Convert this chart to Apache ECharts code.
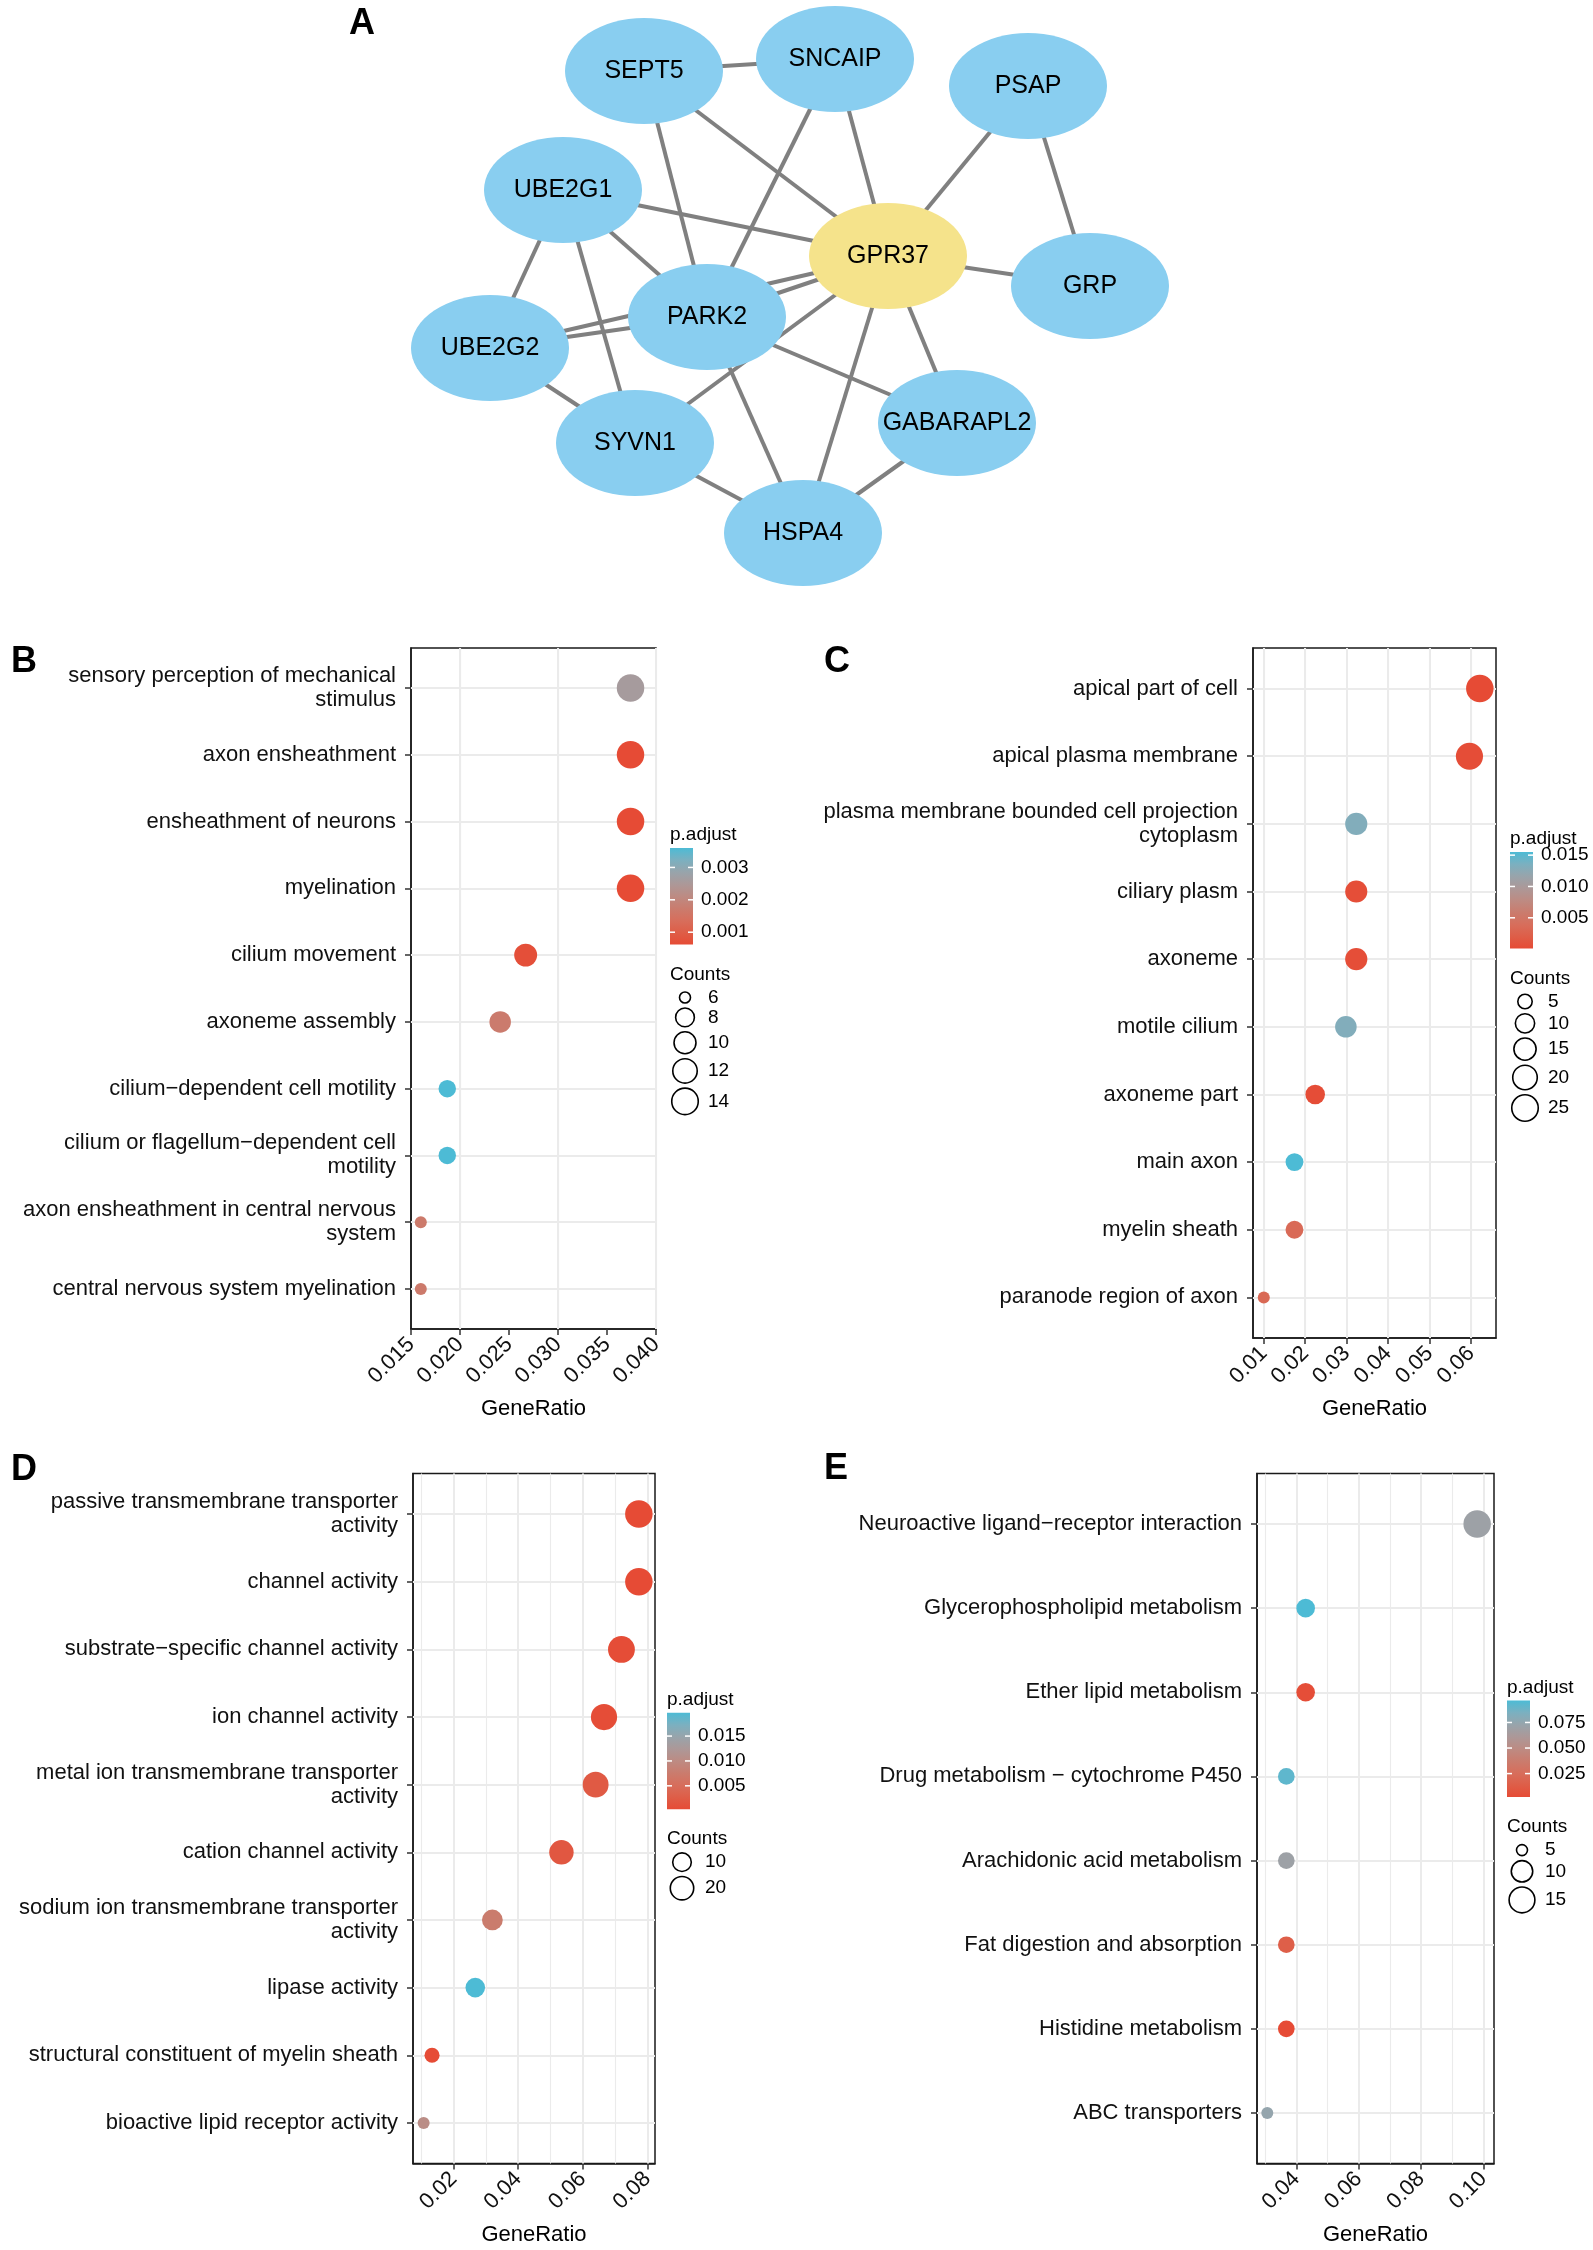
<!DOCTYPE html>
<html>
<head>
<meta charset="utf-8">
<script src="https://cdn.jsdelivr.net/npm/echarts@6/dist/echarts.min.js"></script>
<style>html,body{margin:0;padding:0;background:#fff}#chart{width:1593px;height:2250px}</style>
</head>
<body>
<div id="chart"></div>
<script>
const FONT = "'Liberation Sans', Arial, Helvetica, sans-serif";

// ---------------- Panel A: PPI network ----------------
const netNodes = ['SEPT5','SNCAIP','PSAP','UBE2G1','GPR37','GRP','PARK2','UBE2G2','SYVN1','GABARAPL2','HSPA4'];
// layout coordinates of each node (network layout space)
const netLayout = [[644,71],[835,59],[1028,86],[563,190],[888,256],[1090,286],[707,317],[490,348],[635,443],[957,423],[803,533]];
const netHub = ['GPR37'];
const netEdges = [
  ['SEPT5','SNCAIP'],['SEPT5','GPR37'],['SEPT5','PARK2'],['SNCAIP','GPR37'],['SNCAIP','PARK2'],
  ['PSAP','GPR37'],['PSAP','GRP'],['UBE2G1','GPR37'],['UBE2G1','PARK2'],['UBE2G1','UBE2G2'],
  ['UBE2G1','SYVN1'],['GPR37','GRP'],['GPR37','PARK2'],['UBE2G2','GPR37'],['UBE2G2','PARK2'],
  ['GPR37','SYVN1'],['GPR37','HSPA4'],['GPR37','GABARAPL2'],['PARK2','GABARAPL2'],['PARK2','HSPA4'],
  ['UBE2G2','SYVN1'],['SYVN1','HSPA4'],['GABARAPL2','HSPA4']
];

// ---------------- Panel B: GO BP ----------------
const bCategories = ['sensory perception of mechanical\nstimulus','axon ensheathment','ensheathment of neurons','myelination','cilium movement','axoneme assembly','cilium\u2212dependent cell motility','cilium or flagellum\u2212dependent cell\nmotility','axon ensheathment in central nervous\nsystem','central nervous system myelination'];
const bGeneRatio = [0.0374,0.0374,0.0374,0.0374,0.0267,0.0241,0.0187,0.0187,0.0160,0.0160];
const bCounts = [14,14,14,14,10,9,7,7,6,6];
const bPadj = [0.00259,0.00062,0.00062,0.00062,0.00070,0.00172,0.0036,0.0036,0.00168,0.00168];
const bXTicks = [0.015,0.020,0.025,0.030,0.035,0.040];
const bXRange = [0.015,0.040];
const bPTicks = [0.001,0.002,0.003];
const bCountTicks = [6,8,10,12,14];

// ---------------- Panel C: GO CC ----------------
const cCategories = ['apical part of cell','apical plasma membrane','plasma membrane bounded cell projection\ncytoplasm','ciliary plasm','axoneme','motile cilium','axoneme part','main axon','myelin sheath','paranode region of axon'];
const cGeneRatio = [0.0621,0.0596,0.0323,0.0323,0.0323,0.0298,0.0224,0.0174,0.0174,0.0100];
const cCounts = [25,24,13,13,13,12,9,7,7,4];
const cPadj = [0.0001,0.0003,0.0131,0.0004,0.0004,0.0131,0.0003,0.0155,0.0035,0.0033];
const cXTicks = [0.01,0.02,0.03,0.04,0.05,0.06];
const cXRange = [0.0074,0.066];
const cPTicks = [0.005,0.010,0.015];
const cCountTicks = [5,10,15,20,25];

// ---------------- Panel D: GO MF ----------------
const dCategories = ['passive transmembrane transporter\nactivity','channel activity','substrate\u2212specific channel activity','ion channel activity','metal ion transmembrane transporter\nactivity','cation channel activity','sodium ion transmembrane transporter\nactivity','lipase activity','structural constituent of myelin sheath','bioactive lipid receptor activity'];
const dGeneRatio = [0.0774,0.0774,0.0720,0.0666,0.0640,0.0534,0.0320,0.0267,0.0133,0.0107];
const dCounts = [29,29,27,25,24,20,12,10,5,4];
const dPadj = [0.0003,0.0003,0.0005,0.0006,0.0022,0.0018,0.0075,0.0197,0.0004,0.0104];
const dXTicks = [0.02,0.04,0.06,0.08];
const dXRange = [0.0074,0.0824];
const dPTicks = [0.005,0.010,0.015];
const dCountTicks = [10,20];

// ---------------- Panel E: KEGG ----------------
const eCategories = ['Neuroactive ligand\u2212receptor interaction','Glycerophospholipid metabolism','Ether lipid metabolism','Drug metabolism \u2212 cytochrome P450','Arachidonic acid metabolism','Fat digestion and absorption','Histidine metabolism','ABC transporters'];
const eGeneRatio = [0.0980,0.0430,0.0430,0.0368,0.0368,0.0368,0.0368,0.0307];
const eCounts = [16,7,7,6,6,6,6,5];
const ePadj = [0.0700,0.0964,0.0040,0.0917,0.0700,0.0143,0.0020,0.0740];
const eXTicks = [0.04,0.06,0.08,0.10];
const eXRange = [0.0274,0.1034];
const ePTicks = [0.025,0.050,0.075];
const eCountTicks = [5,10,15];

// ---------------- styling / layout ----------------
// red (low p.adjust) -> blue (high p.adjust), Lab-like path
const gradColors = ['#E64B35','#DE5E48','#D76E5C','#CA7C6E','#BD8B83','#AC9898','#98A4AB','#7BB0C0','#4DBBD5'];
const DOT_MIN = 12, DOT_MAX = 27.5;

const panels = [
  {letter:'B', cats:bCategories, ratio:bGeneRatio, counts:bCounts, padj:bPadj, xTicks:bXTicks, xRange:bXRange, dec:3, pTicks:bPTicks, countTicks:bCountTicks,
   grid:{left:411, top:648, width:245, height:681}, nameGap:69, letterPos:[11,662], leg:{x:670, titleY:835}},
  {letter:'C', cats:cCategories, ratio:cGeneRatio, counts:cCounts, padj:cPadj, xTicks:cXTicks, xRange:cXRange, dec:2, pTicks:cPTicks, countTicks:cCountTicks,
   grid:{left:1253, top:648, width:243, height:690}, nameGap:60, letterPos:[824,662], leg:{x:1510, titleY:839}},
  {letter:'D', cats:dCategories, ratio:dGeneRatio, counts:dCounts, padj:dPadj, xTicks:dXTicks, xRange:dXRange, dec:2, pTicks:dPTicks, countTicks:dCountTicks,
   grid:{left:413, top:1473.5, width:242, height:690}, nameGap:60, letterPos:[11,1470], leg:{x:667, titleY:1699.7}},
  {letter:'E', cats:eCategories, ratio:eGeneRatio, counts:eCounts, padj:ePadj, xTicks:eXTicks, xRange:eXRange, dec:2, pTicks:ePTicks, countTicks:eCountTicks,
   grid:{left:1257, top:1473.5, width:237, height:690}, nameGap:60, letterPos:[824,1469.5], leg:{x:1507, titleY:1687.6}}
];

function textEl(str, x, y, size, opts) {
  opts = opts || {};
  return {type:'text', x:x, y:y, silent:true, z:10,
    style:{text:String(str), fontSize:size, fontFamily:FONT, fontWeight:opts.weight||'normal', fill:'#000',
      align:opts.align||'left', verticalAlign:'middle', textAlign:opts.align||'left', textVerticalAlign:'middle'}};
}

const grids = [{left:0, top:0, width:1593, height:620, show:false}];
const xAxes = [{type:'value', gridIndex:0, min:0, max:1593, show:false}];
const yAxes = [{type:'value', gridIndex:0, min:0, max:620, inverse:true, show:false}];
const series = [];
const visualMaps = [];
const graphics = [];

// network
const ellipse = 'path://M0,50A50,50,0,1,1,100,50A50,50,0,1,1,0,50Z';
series.push({
  type:'graph', coordinateSystem:'cartesian2d', xAxisIndex:0, yAxisIndex:0,
  symbol:ellipse, symbolSize:[158,106], silent:true, z:2,
  data: netNodes.map((n,i)=>({name:n, value:netLayout[i],
    itemStyle:{color: netHub.includes(n) ? '#F5E38B' : '#89CEF0'}})),
  links: netEdges.map(e=>({source:e[0], target:e[1]})),
  lineStyle:{color:'#808080', width:4, opacity:1, curveness:0},
  label:{show:true, position:'inside', fontSize:25, fontFamily:FONT, color:'#000'},
  emphasis:{disabled:true}
});
graphics.push(textEl('A', 349, 24, 36, {weight:'bold'}));

panels.forEach((p, k) => {
  const gi = k + 1;
  grids.push(Object.assign({show:true, borderColor:'#1a1a1a', borderWidth:1.5, backgroundColor:'#fff'}, p.grid));
  const n = p.cats.length;
  const idx = p.cats.map((c,i)=>i);
  xAxes.push({
    type:'value', gridIndex:gi, min:p.xRange[0], max:p.xRange[1],
    axisLine:{show:true, onZero:false, lineStyle:{color:'#1a1a1a', width:1.5}},
    axisTick:{show:true, customValues:p.xTicks, length:6, lineStyle:{color:'#333', width:1.5}},
    axisLabel:{customValues:p.xTicks, rotate:45, margin:12, fontSize:22, fontFamily:FONT, color:'#111',
      formatter:(v)=>Number(v).toFixed(p.dec)},
    splitLine:{show:false},
    name:'GeneRatio', nameLocation:'middle', nameGap:p.nameGap,
    nameTextStyle:{fontSize:22, fontFamily:FONT, color:'#000'}
  });
  yAxes.push({
    type:'value', gridIndex:gi, min:-0.6, max:n-0.4, inverse:true,
    axisLine:{show:true, onZero:false, lineStyle:{color:'#1a1a1a', width:1.5}},
    axisTick:{show:true, customValues:idx, length:6, lineStyle:{color:'#333', width:1.5}},
    axisLabel:{customValues:idx, margin:15, fontSize:22, lineHeight:24, fontFamily:FONT, color:'#111', align:'right',
      formatter:(v)=>p.cats[Math.round(v)]},
    splitLine:{show:false}
  });

  // grid lines (major + minor along x, one per category along y)
  const step = p.xTicks[1]-p.xTicks[0];
  const minors = p.xTicks.map(t=>t-step/2).concat([p.xTicks[p.xTicks.length-1]+step/2])
    .filter(v => v > p.xRange[0]+1e-9 && v < p.xRange[1]-1e-9);
  const gl = [];
  p.xTicks.forEach(v => { if (v > p.xRange[0]+1e-9 && v < p.xRange[1]-1e-9) gl.push({xAxis:v, lineStyle:{color:'#EBEBEB', width:2, type:'solid'}}); });
  minors.forEach(v => gl.push({xAxis:v, lineStyle:{color:'#EBEBEB', width:1.1, type:'solid'}}));
  idx.forEach(i => gl.push({yAxis:i, lineStyle:{color:'#EBEBEB', width:2, type:'solid'}}));
  series.push({type:'scatter', xAxisIndex:gi, yAxisIndex:gi, data:[], silent:true, z:1,
    markLine:{z:1, silent:true, symbol:['none','none'], label:{show:false}, animation:false, emphasis:{disabled:true}, data:gl}});

  const cmin = Math.min(...p.counts), cmax = Math.max(...p.counts);
  const diam = (c) => DOT_MIN + (DOT_MAX-DOT_MIN)*Math.sqrt((c-cmin)/(cmax-cmin));
  const sIdx = series.length;
  series.push({
    type:'scatter', xAxisIndex:gi, yAxisIndex:gi, z:10, silent:true,
    data: p.cats.map((c,i)=>[p.ratio[i], i, p.padj[i], p.counts[i]]),
    symbol:'circle', symbolSize:(val)=>diam(val[3]),
    itemStyle:{opacity:1}
  });
  const pmin = Math.min(...p.padj), pmax = Math.max(...p.padj);
  visualMaps.push({type:'continuous', show:false, seriesIndex:sIdx, dimension:2, min:pmin, max:pmax,
    inRange:{color:gradColors}});

  // panel letter
  graphics.push(textEl(p.letter, p.letterPos[0], p.letterPos[1], 36, {weight:'bold'}));

  // colour legend
  const L = p.leg.x, barTop = p.leg.titleY + 13, barH = 96.5, barW = 23;
  graphics.push(textEl('p.adjust', L, p.leg.titleY, 19));
  const stops = gradColors.slice().reverse().map((c,i,arr)=>({offset:i/(arr.length-1), color:c}));
  graphics.push({type:'rect', silent:true, z:9, shape:{x:L, y:barTop, width:barW, height:barH},
    style:{fill:{type:'linear', x:0, y:0, x2:0, y2:1, colorStops:stops}}});
  p.pTicks.forEach(v => {
    const y = barTop + (pmax - v)/(pmax - pmin)*barH;
    graphics.push({type:'line', silent:true, z:10, shape:{x1:L, y1:y, x2:L+5, y2:y}, style:{stroke:'#fff', lineWidth:1.5}});
    graphics.push({type:'line', silent:true, z:10, shape:{x1:L+barW-5, y1:y, x2:L+barW, y2:y}, style:{stroke:'#fff', lineWidth:1.5}});
    graphics.push(textEl(v.toFixed(3), L+31, y, 19));
  });
  // size legend
  const cTitleY = barTop + barH + 30;
  graphics.push(textEl('Counts', L, cTitleY, 19));
  let y = cTitleY + 23, prevH = 0;
  p.countTicks.forEach((c,i) => {
    const d = diam(c), h = d + 4;
    if (i > 0) y += (prevH + h)/2;
    graphics.push({type:'circle', silent:true, z:10, shape:{cx:L+15, cy:y, r:d/2-0.5},
      style:{fill:'rgba(0,0,0,0)', stroke:'#000', lineWidth:1.6}});
    graphics.push(textEl(c, L+38, y, 19));
    prevH = h;
  });
});

const chart = echarts.init(document.getElementById('chart'), null, {renderer:'canvas', width:1593, height:2250});
chart.setOption({
  animation:false,
  backgroundColor:'#fff',
  textStyle:{fontFamily:FONT},
  grid:grids, xAxis:xAxes, yAxis:yAxes,
  visualMap:visualMaps,
  series:series,
  graphic:{elements:graphics}
});
</script>
</body>
</html>
